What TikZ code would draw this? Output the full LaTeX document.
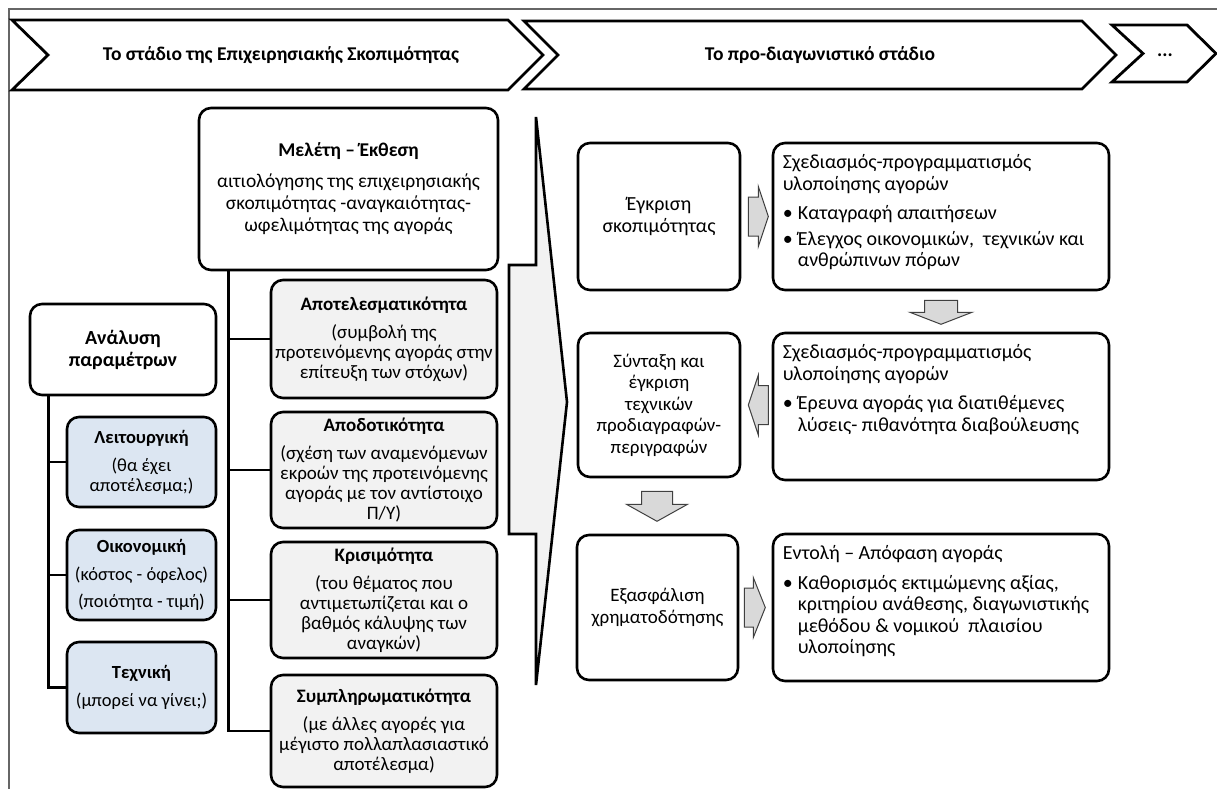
\documentclass[tikz,border=0pt]{standalone}
\usepackage{fontspec}
\setmainfont{Carlito}
\usetikzlibrary{calc}
\definecolor{boxgray}{HTML}{F2F2F2}
\definecolor{boxblue}{HTML}{DCE6F2}
\definecolor{arrgray}{HTML}{D9D9D9}
\definecolor{framegray}{HTML}{666666}
\newcommand{\bul}{\makebox[15pt][l]{\textbullet}}
\newcommand{\ind}{\hspace*{15pt}}
\begin{document}
\begin{tikzpicture}[x=1pt,y=-1pt,
  box/.style={draw=black, line width=2.6pt, rounded corners=12pt, fill=white, inner sep=0pt, align=center},
  graybox/.style={box, fill=boxgray},
  bluebox/.style={box, fill=boxblue},
  lfont/.style={font=\fontsize{19}{20}\selectfont},
  bfont/.style={font=\fontsize{18.5}{20}\selectfont},
  mfont/.style={font=\fontsize{19.5}{22}\selectfont},
  rfont/.style={font=\fontsize{20}{21.5}\selectfont},
  cfont/.style={font=\fontsize{19}{21.5}\selectfont},
  rtext/.style={rfont, anchor=north west, inner sep=0pt, align=left},
  tree/.style={line width=2.6pt, draw=black, line join=miter},
  barrow/.style={fill=arrgray, draw=black!75, line width=1pt, line join=miter},
  chev/.style={draw=black, line width=2.8pt, fill=white, line join=miter},
  head/.style={font=\fontsize{19.5}{22}\selectfont\bfseries, inner sep=0pt}
]
\useasboundingbox (0,0) rectangle (1217,789);
\fill[white] (0,0) rectangle (1217,789);
% outer frame
\draw[framegray, line width=1.2pt] (9,789) -- (9,9) -- (1217,9);

% header chevrons
\draw[chev] (12,20) -- (508,20) -- (543,55) -- (508,90) -- (12,90) -- (48,55) -- cycle;
\draw[chev] (524,21) -- (1082,21) -- (1116,55) -- (1082,89) -- (524,89) -- (558,55) -- cycle;
\draw[chev] (1112,25) -- (1187,25) -- (1216,53.5) -- (1187,82) -- (1112,82) -- (1143,53.5) -- cycle;
\node[head] (h1) at (281,55) {Το στάδιο της Επιχειρησιακής Σκοπιμότητας};
\node[head] (h2) at (820,55) {Το προ-διαγωνιστικό στάδιο};
\node[head] (h3) at (1165,55) {...};

% big arrow
\draw[chev, fill=boxgray, line width=2.6pt] (536,117) -- (567,402) -- (536,685) -- (536,534) -- (509,534) -- (509,265) -- (536,265) -- cycle;

% middle column
\node[box, mfont, minimum width=299pt, minimum height=162pt] (mel) at (348.5,189)
  {\textbf{Μελέτη – Έκθεση}\\[9pt] αιτιολόγησης της επιχειρησιακής\\ σκοπιμότητας -αναγκαιότητας-\\ ωφελιμότητας της αγοράς};
\node[graybox, lfont, minimum width=226pt, minimum height=118pt] (eff) at (384,339)
  {\textbf{Αποτελεσματικότητα}\\[8pt] (συμβολή της\\ προτεινόμενης αγοράς στην\\ επίτευξη των στόχων)};
\node[graybox, lfont, minimum width=226pt, minimum height=116pt] (effc) at (384,470)
  {\textbf{Αποδοτικότητα}\\[8pt] (σχέση των αναμενόμενων\\ εκροών της προτεινόμενης\\ αγοράς με τον αντίστοιχο\\ Π/Υ)};
\node[graybox, lfont, minimum width=226pt, minimum height=116pt] (crit) at (384,600)
  {\textbf{Κρισιμότητα}\\[8pt] (του θέματος που\\ αντιμετωπίζεται και ο\\ βαθμός κάλυψης των\\ αναγκών)};
\node[graybox, lfont, minimum width=226pt, minimum height=112pt] (comp) at (384,731)
  {\textbf{Συμπληρωματικότητα}\\[8pt] (με άλλες αγορές για\\ μέγιστο πολλαπλασιαστικό\\ αποτέλεσμα)};
\coordinate (tR) at ($(mel.south west)+(31,0)$);
\draw[tree] (tR) |- (comp.west);
\draw[tree] (tR) |- (eff.west);
\draw[tree] (tR) |- (effc.west);
\draw[tree] (tR) |- (crit.west);

% left column
\node[box, font=\fontsize{20}{22}\selectfont\bfseries, minimum width=186pt, minimum height=91pt] (ana) at (123,349.5)
  {Ανάλυση\\ παραμέτρων};
\node[bluebox, bfont, minimum width=149pt, minimum height=90pt] (lei) at (141.5,462)
  {\textbf{Λειτουργική}\\[8pt] (θα έχει\\ αποτέλεσμα;)};
\node[bluebox, bfont, minimum width=149pt, minimum height=90pt] (oik) at (141.5,575)
  {\textbf{Οικονομική}\\[8pt] (κόστος - όφελος)\\[7pt] (ποιότητα - τιμή)};
\node[bluebox, bfont, minimum width=149pt, minimum height=91pt] (tex) at (141.5,687.5)
  {\textbf{Τεχνική}\\[8pt] (μπορεί να γίνει;)};
\coordinate (tL) at ($(ana.south west)+(20,0)$);
\draw[tree] (tL) |- (tex.west);
\draw[tree] (tL) |- (lei.west);
\draw[tree] (tL) |- (oik.west);

% right column
\node[box, rfont, minimum width=162pt, minimum height=147pt] (egk) at (659,216.5)
  {Έγκριση\\ σκοπιμότητας};
\node[box, minimum width=336pt, minimum height=147pt] (s1) at (941,216.5) {};
\node[rtext] (s1t) at ($(s1.north west)+(11,13)$)
  {Σχεδιασμός-προγραμματισμός\\ υλοποίησης αγορών\\[8pt]
   \bul Καταγραφή απαιτήσεων\\[4pt]
   \bul Έλεγχος οικονομικών,\ \ τεχνικών και\\ \ind ανθρώπινων πόρων};
\node[box, cfont, minimum width=162pt, minimum height=144pt] (synt) at (659,405)
  {Σύνταξη και\\ έγκριση\\ τεχνικών\\ προδιαγραφών-\\ περιγραφών};
\node[box, minimum width=336pt, minimum height=147pt] (s2) at (941,406.5) {};
\node[rtext] (s2t) at ($(s2.north west)+(11,13)$)
  {Σχεδιασμός-προγραμματισμός\\ υλοποίησης αγορών\\[8pt]
   \bul Έρευνα αγοράς για διατιθέμενες\\ \ind λύσεις- πιθανότητα διαβούλευσης};
\node[box, cfont, minimum width=161pt, minimum height=145pt] (exa) at (657.5,607.5)
  {Εξασφάλιση\\ χρηματοδότησης};
\node[box, minimum width=336pt, minimum height=147pt] (ent) at (941,607.5) {};
\node[rtext] (entt) at ($(ent.north west)+(11,13)$)
  {Εντολή – Απόφαση αγοράς\\[8pt]
   \bul Καθορισμός εκτιμώμενης αξίας,\\ \ind κριτηρίου ανάθεσης, διαγωνιστικής\\ \ind μεθόδου \& νομικού\ \ πλαισίου\\ \ind υλοποίησης};

% block arrows
\draw[barrow] ($(egk.east)+(7,0)$) ++(0,-19.5) -- ++(10,0) -- ++(0,-10.5) -- ++(10,30) -- ++(-10,30) -- ++(0,-10.5) -- ++(-10,0) -- cycle;
\draw[barrow] ($(s1.south)+(0,9)$) ++(-16.5,0) -- ++(33,0) -- ++(0,12) -- ++(14.5,0) -- ++(-31,12) -- ++(-31,-12) -- ++(14.5,0) -- cycle;
\draw[barrow] ($(synt.east)+(7,0)$) -- ++(10,-30) -- ++(0,10.5) -- ++(10,0) -- ++(0,39) -- ++(-10,0) -- ++(0,10.5) -- cycle;
\draw[barrow] ($(synt.south)+(-2,13)$) ++(-15.5,0) -- ++(31,0) -- ++(0,13) -- ++(15,0) -- ++(-30.5,17) -- ++(-30.5,-17) -- ++(15,0) -- cycle;
\draw[barrow] ($(exa.east)+(5,0)$) ++(0,-19.5) -- ++(9,0) -- ++(0,-10.5) -- ++(12,30) -- ++(-12,30) -- ++(0,-10.5) -- ++(-9,0) -- cycle;
\end{tikzpicture}
\end{document}
